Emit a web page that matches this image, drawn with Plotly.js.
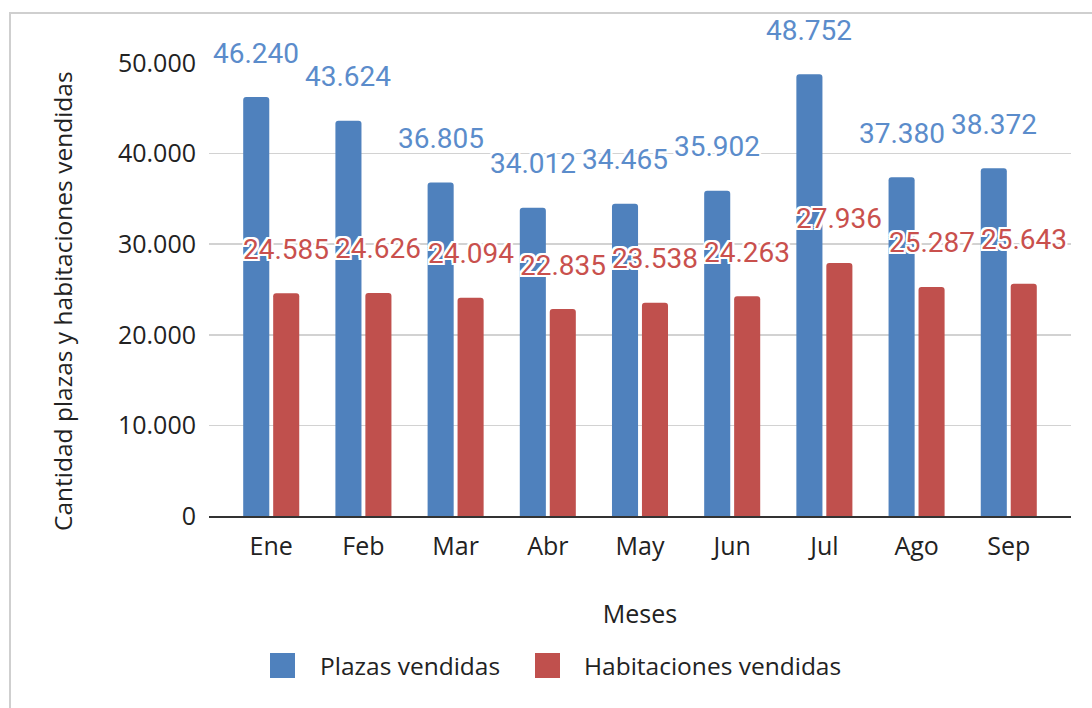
<!DOCTYPE html>
<html>
<head>
<meta charset="utf-8">
<script src="https://cdn.plot.ly/plotly-3.0.1.min.js"></script>
<style>html,body{margin:0;padding:0;background:#fff;}#chart{width:1092px;height:708px;}</style>
</head>
<body>
<div id="chart"></div>
<script>
const months = ['Ene','Feb','Mar','Abr','May','Jun','Jul','Ago','Sep'];
const plazas = [46240,43624,36805,34012,34465,35902,48752,37380,38372];
const habitaciones = [24585,24626,24094,22835,23538,24263,27936,25287,25643];
const seriesNames = ['Plazas vendidas','Habitaciones vendidas'];
const yTicks = [0,10000,20000,30000,40000,50000];

const blue = '#4f81bd', red = '#c0504d';
const blueLbl = '#5b8ccb', redLbl = '#c9504d';
const colors = [blue, red];
const fmt = v => String(v).replace(/\B(?=(\d{3})+(?!\d))/g, '.');
const halo = '2px 0 0 #fff, -2px 0 0 #fff, 0 2px 0 #fff, 0 -2px 0 #fff, 2px 2px 0 #fff, -2px -2px 0 #fff, 2px -2px 0 #fff, -2px 2px 0 #fff';

// plot area in px (for paper-coordinate conversions of decorations)
const L = 209, R = 1071, T = 63, B = 516;
const px = x => (x - L) / (R - L);
const py = y => (B - y) / (B - T);

const traces = [
  {type:'bar', name:seriesNames[0], x:months, y:plazas, marker:{color:colors[0]}, hoverinfo:'x+y', showlegend:false},
  {type:'bar', name:seriesNames[1], x:months, y:habitaciones, marker:{color:colors[1]}, hoverinfo:'x+y', showlegend:false}
];

const annotations = [];
function addLabels(vals, shift, color){
  vals.forEach((v,i)=>{
    annotations.push({x:months[i], y:v, xref:'x', yref:'y', text:fmt(v), showarrow:false,
      xshift:shift, yshift:44, yanchor:'middle', xanchor:'center',
      font:{family:'Roboto', size:28, color:color, shadow:halo}});
  });
}
addLabels(plazas, -15, blueLbl);
addLabels(habitaciones, 15, redLbl);

annotations.push({text:'Cantidad plazas y habitaciones vendidas', xref:'paper', yref:'paper',
  x:px(62), y:py(301), textangle:-90, showarrow:false, xanchor:'center', yanchor:'middle',
  font:{family:'Open Sans', size:24.5, color:'#222'}});

// legend (drawn manually to match large square swatches)
const legendItems = [{sw:270, tx:318}, {sw:535, tx:582}];
const shapes = [{type:'rect', xref:'paper', yref:'paper', x0:px(10), x1:px(1110), y0:py(730), y1:py(13),
    line:{color:'#cfcfcf', width:2}, fillcolor:'rgba(0,0,0,0)', layer:'below'}];
legendItems.forEach((it,k)=>{
  shapes.push({type:'rect', xref:'paper', yref:'paper', x0:px(it.sw), x1:px(it.sw+25), y0:py(678), y1:py(653),
    line:{width:0}, fillcolor:colors[k]});
  annotations.push({text:seriesNames[k], xref:'paper', yref:'paper', x:px(it.tx), y:py(665),
    xanchor:'left', yanchor:'middle', showarrow:false, font:{family:'Open Sans', size:24.5, color:'#222'}});
});

const layout = {
  width:1092, height:708,
  margin:{l:L, r:1092-R, t:T, b:708-B},
  paper_bgcolor:'#fff', plot_bgcolor:'#fff',
  separators:',.',
  barmode:'group', bargap:0.35, bargroupgap:0.13, barcornerradius:3,
  font:{family:'Open Sans', size:25, color:'#222'},
  xaxis:{type:'category', range:[-0.675, 8.675], showgrid:false, showline:true, linecolor:'#333', linewidth:2,
    ticks:'', ticklabelstandoff:7, tickfont:{family:'Open Sans', size:25, color:'#222'},
    title:{text:'Meses', standoff:44, font:{family:'Open Sans', size:25, color:'#222'}}, zeroline:false, fixedrange:true},
  yaxis:{range:[0,50000], tickvals:yTicks, ticktext:yTicks.map(fmt), showgrid:true, gridcolor:'#d2d2d2', gridwidth:1.5,
    zeroline:false, showline:false, ticks:'', ticklabelstandoff:12, tickfont:{family:'Open Sans', size:25, color:'#222'}, fixedrange:true},
  showlegend:false,
  annotations:annotations,
  shapes:shapes
};

Plotly.newPlot('chart', traces, layout, {displayModeBar:false, staticPlot:true});
</script>
</body>
</html>
